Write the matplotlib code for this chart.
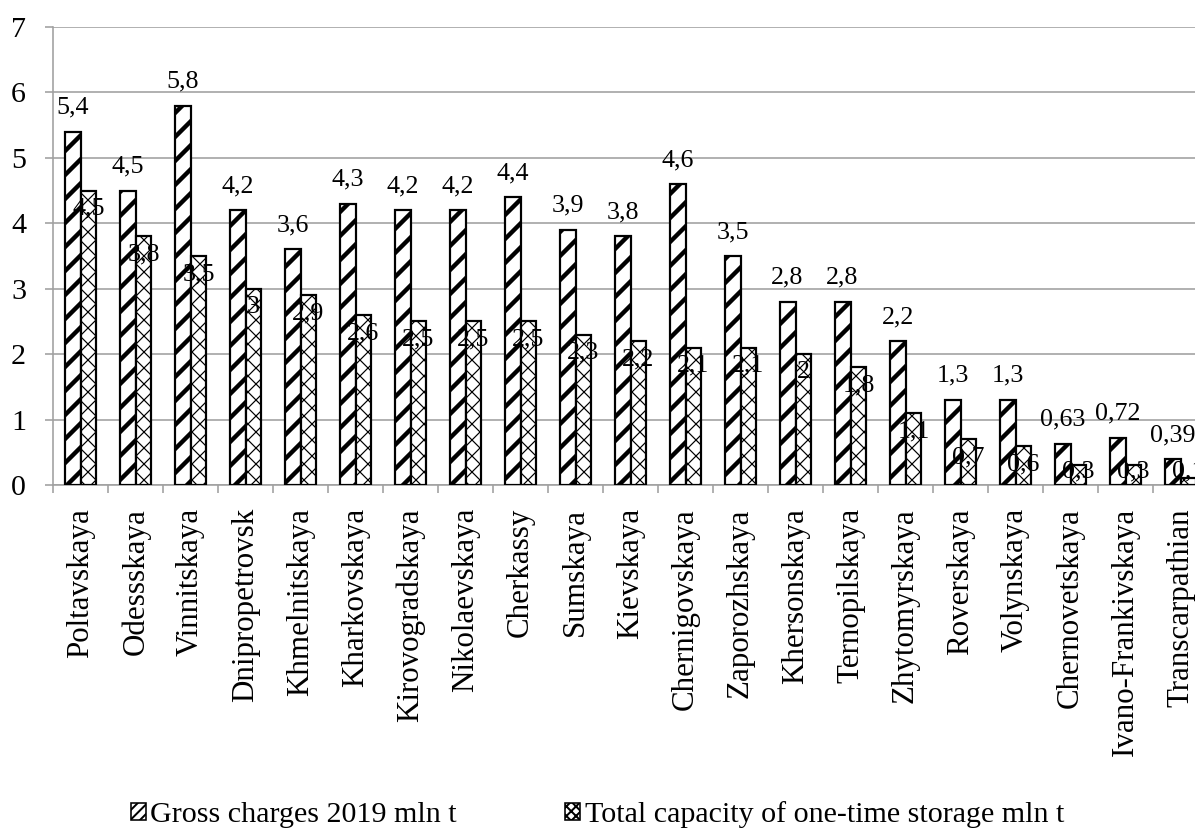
import numpy as np
import matplotlib
matplotlib.use("Agg")
from matplotlib import pyplot as plt
from matplotlib.patches import Patch

regions = ["Poltavskaya", "Odessskaya", "Vinnitskaya", "Dnipropetrovsk", "Khmelnitskaya",
           "Kharkovskaya", "Kirovogradskaya", "Nikolaevskaya", "Cherkassy", "Sumskaya",
           "Kievskaya", "Chernigovskaya", "Zaporozhskaya", "Khersonskaya", "Ternopilskaya",
           "Zhytomyrskaya", "Roverskaya", "Volynskaya", "Chernovetskaya", "Ivano-Frankivskaya",
           "Transcarpathian"]
gross = [5.4, 4.5, 5.8, 4.2, 3.6, 4.3, 4.2, 4.2, 4.4, 3.9, 3.8, 4.6, 3.5, 2.8, 2.8, 2.2,
         1.3, 1.3, 0.63, 0.72, 0.39]
storage = [4.5, 3.8, 3.5, 3, 2.9, 2.6, 2.5, 2.5, 2.5, 2.3, 2.2, 2.1, 2.1, 2, 1.8, 1.1,
           0.7, 0.6, 0.3, 0.3, 0.1]
series_names = ["Gross charges 2019 mln t", "Total capacity of one-time storage mln t"]

plt.rcParams['font.family'] = ['Liberation Serif', 'DejaVu Serif']

def fmt(v):
    return ("%g" % v).replace(".", ",")

# dpi 144 so that one hatch cell (1 inch) is 144 px
fig = plt.figure(figsize=(1195/144, 834/144), dpi=144)
ax = fig.add_axes([53/1195, 1 - 485/834, 21*55/1195, 458/834])

x = np.arange(len(regions))
w = 0.29
b1 = ax.bar(x - w/2, gross, w, color="white", edgecolor="black", linewidth=1.1,
            hatch="//", zorder=3)
b2 = ax.bar(x + w/2, storage, w, color="white", edgecolor="black", linewidth=1.1,
            hatch="xxx", zorder=3)
for r in b1:
    r.set_hatch_linewidth(2.2)
for r in b2:
    r.set_hatch_linewidth(0.6)

for xi, v in zip(x, gross):
    ax.annotate(fmt(v), (xi - w/2, v), xytext=(0, 9), textcoords="offset points",
                ha="center", va="baseline", fontsize=13, zorder=5)
for xi, v in zip(x, storage):
    ax.annotate(fmt(v), (xi + w/2, max(v - 0.28, 0.2)), ha="center", va="center",
                fontsize=13, zorder=5)

ax.set_ylim(0, 7)
ax.set_xlim(-0.5, len(regions) - 0.5)
ax.set_yticks(range(0, 8))
ax.tick_params(axis="y", labelsize=15, length=4, width=0.8, color="#a0a0a0", pad=9.5)
ax.set_xticks(x)
ax.set_xticklabels(regions, rotation=90, fontsize=15.5)
ax.set_xticks(np.arange(-0.5, len(regions)), minor=True)
ax.tick_params(axis="x", which="major", length=0, pad=11.5)
ax.tick_params(axis="x", which="minor", length=4, width=0.8, color="#a0a0a0")
ax.yaxis.grid(True, color="#a0a0a0", linewidth=0.8, zorder=0)
ax.set_axisbelow(True)
for s in ["top", "right"]:
    ax.spines[s].set_visible(False)
for s in ["left", "bottom"]:
    ax.spines[s].set_color("#a0a0a0")
    ax.spines[s].set_linewidth(0.8)

h1 = Patch(facecolor="white", edgecolor="black", hatch="/////", linewidth=0.8,
           label=series_names[0])
h2 = Patch(facecolor="white", edgecolor="black", hatch="xxxxx", linewidth=0.8,
           label=series_names[1])
h1.set_hatch_linewidth(1.4)
h2.set_hatch_linewidth(0.5)
fig.legend(handles=[h1, h2], loc="center", bbox_to_anchor=(0.5, 0.023), ncol=2,
           frameon=False, fontsize=15, handlelength=0.5, handleheight=0.5,
           handletextpad=0.15, columnspacing=3.6)

fig.savefig("out.png", dpi=144)
